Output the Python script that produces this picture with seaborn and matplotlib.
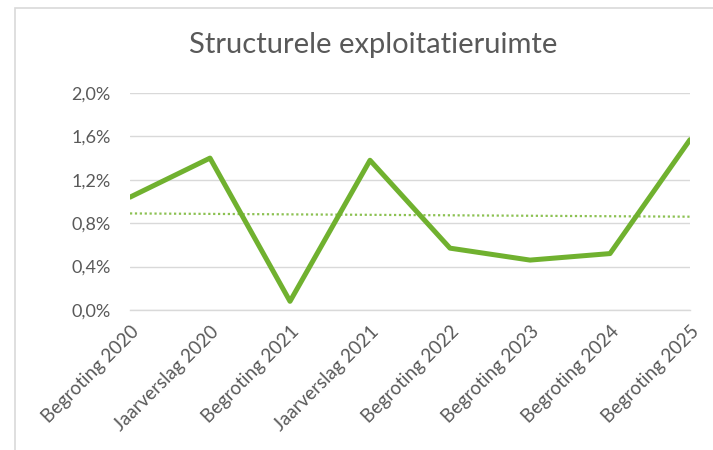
import matplotlib.pyplot as plt
import matplotlib.patches as mpatches
from matplotlib.ticker import FuncFormatter
import seaborn as sns
import pandas as pd

# data
categories = ['Begroting 2020', 'Jaarverslag 2020', 'Begroting 2021', 'Jaarverslag 2021',
              'Begroting 2022', 'Begroting 2023', 'Begroting 2024', 'Begroting 2025']
ruimte = [1.04, 1.40, 0.08, 1.38, 0.57, 0.46, 0.52, 1.57]
trend_ends = [0.89, 0.86]
y_ticks = [0.0, 0.4, 0.8, 1.2, 1.6, 2.0]

sns.set_style("white")
plt.rcParams['font.family'] = ['Lato', 'DejaVu Sans']

green = '#70B12F'
grey_text = '#595959'
grid_col = '#D9D9D9'

df = pd.DataFrame({'categorie': categories, 'ruimte': ruimte})

fig = plt.figure(figsize=(7.13, 4.5), dpi=100)
ax = fig.add_axes([130 / 713, 1 - 310 / 450, 560 / 713, 217 / 450])

# outer chart frame (only top and left edges visible in the crop)
fig.patches.append(mpatches.Rectangle((15 / 713, -0.1), 1.2, 1 - 8 / 450 + 0.1,
                                      transform=fig.transFigure, fill=False,
                                      edgecolor=grid_col, linewidth=1.2))

sns.lineplot(data=df, x='categorie', y='ruimte', ax=ax, color=green,
             linewidth=3.6, sort=False, zorder=3)
ax.plot([categories[0], categories[-1]], trend_ends, linestyle=(0, (1, 1.2)),
        color='#8CC152', linewidth=1.6, zorder=2)

ax.set_xlim(0, len(categories) - 1)
ax.set_ylim(0, 2.0)
ax.set_yticks(y_ticks)
ax.yaxis.set_major_formatter(FuncFormatter(lambda v, _: f'{v:.1f}%'.replace('.', ',')))
ax.yaxis.grid(True, color=grid_col, linewidth=1)
ax.set_axisbelow(True)

for side in ['top', 'right', 'left']:
    ax.spines[side].set_visible(False)
ax.spines['bottom'].set_color(grid_col)
ax.spines['bottom'].set_linewidth(1)

ax.tick_params(axis='y', length=0, labelsize=13, labelcolor=grey_text, pad=14)
ax.tick_params(axis='x', length=6, width=1, color=grid_col, labelsize=13.5,
               labelcolor=grey_text, direction='out', pad=3)
plt.setp(ax.get_xticklabels(), rotation=45, ha='right', rotation_mode='anchor')

ax.set_xlabel('')
ax.set_ylabel('')
fig.text(373 / 713, 1 - 45 / 450, 'Structurele exploitatieruimte', ha='center', va='center',
         fontsize=21, color=grey_text)

fig.savefig('out.png', dpi=100)
